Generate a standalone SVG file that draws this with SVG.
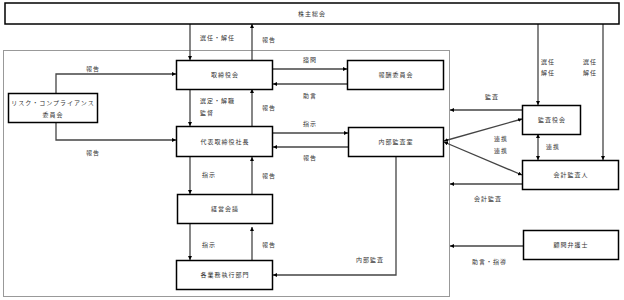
<svg xmlns="http://www.w3.org/2000/svg" width="624" height="300" viewBox="0 0 624 300">
<style>
.box{fill:#fff;stroke:#000;stroke-width:1.5}
.bound{fill:none;stroke:#999;stroke-width:1}
.ln{fill:none;stroke:#444;stroke-width:1.3}
text{font-family:"Noto Sans CJK JP","Noto Sans CJK SC",sans-serif;font-size:6px;fill:#333;letter-spacing:1px}
.c{text-anchor:middle}
</style>
<defs>
<marker id="ah" viewBox="0 0 6 6" refX="6" refY="3" markerWidth="4" markerHeight="4" orient="auto-start-reverse" markerUnits="userSpaceOnUse">
<path d="M0,0L6,3L0,6z" fill="#000"/>
</marker>
</defs>
<rect width="624" height="300" fill="#fff"/>
<rect class="bound" x="3.5" y="50.5" width="446" height="246"/>

<g id="connectors">
<line class="ln" x1="190" y1="24" x2="190" y2="60" marker-end="url(#ah)"/>
<line class="ln" x1="252" y1="60" x2="252" y2="24" marker-end="url(#ah)"/>
<polyline class="ln" points="56,93 56,74 176,74" marker-end="url(#ah)"/>
<polyline class="ln" points="56,122 56,140 176,140" marker-end="url(#ah)"/>
<line class="ln" x1="190" y1="89" x2="190" y2="126" marker-end="url(#ah)"/>
<line class="ln" x1="252" y1="126" x2="252" y2="89" marker-end="url(#ah)"/>
<line class="ln" x1="273" y1="69" x2="347" y2="69" marker-end="url(#ah)"/>
<line class="ln" x1="347" y1="84" x2="273" y2="84" marker-end="url(#ah)"/>
<line class="ln" x1="273" y1="133" x2="348" y2="133" marker-end="url(#ah)"/>
<line class="ln" x1="348" y1="147" x2="273" y2="147" marker-end="url(#ah)"/>
<line class="ln" x1="190" y1="157" x2="190" y2="194" marker-end="url(#ah)"/>
<line class="ln" x1="252" y1="194" x2="252" y2="157" marker-end="url(#ah)"/>
<line class="ln" x1="190" y1="223" x2="190" y2="260" marker-end="url(#ah)"/>
<line class="ln" x1="252" y1="260" x2="252" y2="227" marker-end="url(#ah)"/>
<polyline class="ln" points="396,157 396,275 273,275" marker-end="url(#ah)"/>
<line class="ln" x1="538" y1="24" x2="538" y2="105" marker-end="url(#ah)"/>
<line class="ln" x1="603" y1="24" x2="603" y2="160" marker-end="url(#ah)"/>
<line class="ln" x1="522" y1="110" x2="450" y2="110" marker-end="url(#ah)"/>
<line class="ln" x1="444" y1="141" x2="522" y2="119" marker-start="url(#ah)" marker-end="url(#ah)"/>
<line class="ln" x1="444" y1="142" x2="522" y2="175" marker-start="url(#ah)" marker-end="url(#ah)"/>
<line class="ln" x1="538" y1="134" x2="538" y2="160" marker-start="url(#ah)" marker-end="url(#ah)"/>
<line class="ln" x1="522" y1="184" x2="450" y2="184" marker-end="url(#ah)"/>
<line class="ln" x1="523" y1="246" x2="450" y2="246" marker-end="url(#ah)"/>
</g>

<g id="labels">
<text x="200" y="40">選任・解任</text>
<text x="262" y="42">報告</text>
<text x="86" y="71">報告</text>
<text x="86" y="155">報告</text>
<text x="200" y="103">選定・解職</text>
<text x="200" y="115">監督</text>
<text x="262" y="110">報告</text>
<text x="303" y="62">諮問</text>
<text x="303" y="98">助言</text>
<text x="303" y="126">指示</text>
<text x="303" y="160">報告</text>
<text x="202" y="177">指示</text>
<text x="262" y="178">報告</text>
<text x="202" y="247">指示</text>
<text x="262" y="247">報告</text>
<text x="356" y="262">内部監査</text>
<text x="485" y="99">監査</text>
<text x="541" y="64">選任</text>
<text x="541" y="75">解任</text>
<text x="583" y="64">選任</text>
<text x="583" y="75">解任</text>
<text x="494" y="141">連携</text>
<text x="494" y="153">連携</text>
<text x="546" y="149">連携</text>
<text x="474" y="201">会計監査</text>
<text x="472" y="264">助言・指導</text>
</g>

<g id="n-shareholders"><rect class="box" x="5" y="3" width="614" height="21"/><text class="c" x="312" y="16">株主総会</text></g>
<g id="n-board"><rect class="box" x="176.5" y="60.5" width="96" height="29"/><text class="c" x="225" y="77">取締役会</text></g>
<g id="n-risk"><rect class="box" x="8.5" y="93.5" width="89" height="29"/><text class="c" x="53" y="105">リスク・コンプライアンス</text><text class="c" x="53" y="117">委員会</text></g>
<g id="n-comp"><rect class="box" x="347.5" y="60.5" width="96" height="29"/><text class="c" x="396" y="77">報酬委員会</text></g>
<g id="n-ceo"><rect class="box" x="176.5" y="126.5" width="96" height="30"/><text class="c" x="225" y="144">代表取締役社長</text></g>
<g id="n-audit-office"><rect class="box" x="348.5" y="127.5" width="95" height="29"/><text class="c" x="396" y="144">内部監査室</text></g>
<g id="n-mgmt"><rect class="box" x="177.5" y="194.5" width="95" height="29"/><text class="c" x="225" y="211">経営会議</text></g>
<g id="n-ops"><rect class="box" x="176.5" y="260.5" width="96" height="29"/><text class="c" x="225" y="277">各業務執行部門</text></g>
<g id="n-kansayaku"><rect class="box" x="522.5" y="105.5" width="58" height="29"/><text class="c" x="552" y="122">監査役会</text></g>
<g id="n-auditor"><rect class="box" x="522.5" y="160.5" width="96" height="29"/><text class="c" x="571" y="177">会計監査人</text></g>
<g id="n-lawyer"><rect class="box" x="523.5" y="230.5" width="95" height="29"/><text class="c" x="571" y="247">顧問弁護士</text></g>
</svg>
